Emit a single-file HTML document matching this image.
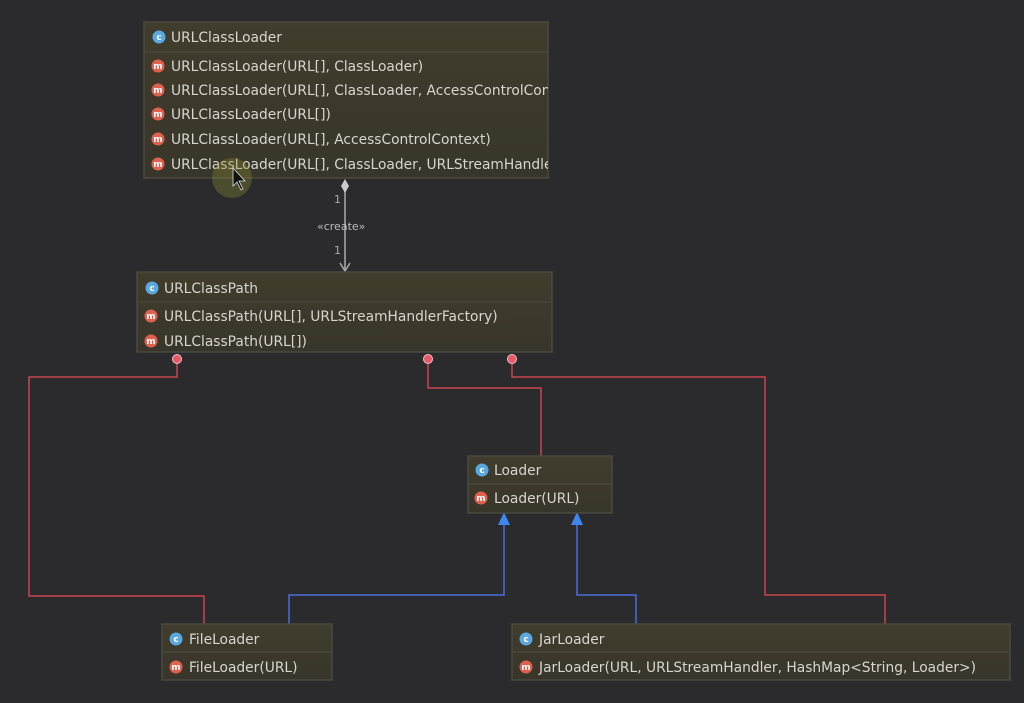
<!DOCTYPE html>
<html><head><meta charset="utf-8"><style>
html,body{margin:0;padding:0;background:#2b2b2d;}
svg{display:block}
text{font-family:"DejaVu Sans","Liberation Sans",sans-serif;font-size:13.8px;fill:#d8d6cc}
.ic{font-size:9px;font-weight:bold;fill:#fff}
</style></head><body>
<svg width="1024" height="703" viewBox="0 0 1024 703">
<defs>
<linearGradient id="g" x1="0" y1="0" x2="0" y2="1"><stop offset="0" stop-color="#403d2d"/><stop offset="1" stop-color="#38352a"/></linearGradient>
<clipPath id="c1"><rect x="144" y="22" width="404" height="156"/></clipPath>
</defs>
<rect width="1024" height="703" fill="#2b2b2d"/>
<g fill="none" stroke-width="1.5">
<polyline stroke="#c9444f" points="177,362 177,377 29,377 29,596 204,596 204,624"/>
<polyline stroke="#c9444f" points="428,362 428,388 541,388 541,456"/>
<polyline stroke="#c9444f" points="512,362 512,377 765,377 765,595 885,595 885,624"/>
<polyline stroke="#4a6ed8" points="504,524 504,595 289,595 289,624"/>
<polyline stroke="#4a6ed8" points="577,524 577,595 636,595 636,624"/>
<line stroke="#aaa" x1="345" y1="190" x2="345" y2="270"/>
<polyline stroke="#aaa" points="340,263 345,271 350,263"/>
</g>
<polygon points="345,179 349,186 345,193 341,186" fill="#ccc"/>
<polygon points="504,512 498,525 510,525" fill="#3f86f0"/>
<polygon points="577,512 571,525 583,525" fill="#3f86f0"/>
<text x="334" y="203" style="font-size:11px;fill:#aaa">1</text>
<text x="317" y="230" style="font-size:11px;fill:#bbb">«create»</text>
<text x="334" y="254" style="font-size:11px;fill:#aaa">1</text>
<g fill="#e55a66" stroke="#f2c0c4" stroke-width="1">
<circle cx="177" cy="359" r="4.5"/><circle cx="428" cy="359" r="4.5"/><circle cx="512" cy="359" r="4.5"/>
</g>
<g stroke="#4b4a42" stroke-width="1.5" fill="url(#g)">
<rect x="144" y="22" width="404" height="156"/>
<rect x="137" y="272" width="415" height="80"/>
<rect x="468" y="456" width="144" height="57"/>
<rect x="162" y="624" width="170" height="56"/>
<rect x="512" y="624" width="498" height="56"/>
</g>
<g stroke="#4e4c40" stroke-width="1">
<line x1="145" y1="52" x2="547" y2="52"/>
<line x1="138" y1="302" x2="551" y2="302"/>
<line x1="469" y1="484" x2="611" y2="484"/>
<line x1="163" y1="652" x2="331" y2="652"/>
<line x1="513" y1="652" x2="1009" y2="652"/>
</g>
<g fill="#5aa8e0">
<circle cx="159" cy="37" r="6.5"/><circle cx="152" cy="288" r="6.5"/><circle cx="482" cy="470" r="6.5"/><circle cx="176" cy="639" r="6.5"/><circle cx="526" cy="639" r="6.5"/>
</g>
<g text-anchor="middle">
<text class="ic" x="159" y="40">c</text><text class="ic" x="152" y="291">c</text><text class="ic" x="482" y="473">c</text><text class="ic" x="176" y="642">c</text><text class="ic" x="526" y="642">c</text>
</g>
<g fill="#e0604f">
<circle cx="158" cy="66" r="6.5"/><circle cx="158" cy="90" r="6.5"/><circle cx="158" cy="114" r="6.5"/><circle cx="158" cy="139" r="6.5"/><circle cx="158" cy="164" r="6.5"/>
<circle cx="151" cy="316" r="6.5"/><circle cx="151" cy="341" r="6.5"/>
<circle cx="481" cy="498" r="6.5"/><circle cx="176" cy="667" r="6.5"/><circle cx="526" cy="667" r="6.5"/>
</g>
<g text-anchor="middle">
<text class="ic" x="158" y="69">m</text><text class="ic" x="158" y="93">m</text><text class="ic" x="158" y="117">m</text><text class="ic" x="158" y="142">m</text><text class="ic" x="158" y="167">m</text>
<text class="ic" x="151" y="319">m</text><text class="ic" x="151" y="344">m</text>
<text class="ic" x="481" y="501">m</text><text class="ic" x="176" y="670">m</text><text class="ic" x="526" y="670">m</text>
</g>
<g clip-path="url(#c1)">
<text x="171" y="42">URLClassLoader</text>
<text x="171" y="71">URLClassLoader(URL[], ClassLoader)</text>
<text x="171" y="95">URLClassLoader(URL[], ClassLoader, AccessControlContext)</text>
<text x="171" y="119">URLClassLoader(URL[])</text>
<text x="171" y="144">URLClassLoader(URL[], AccessControlContext)</text>
<text x="171" y="169">URLClassLoader(URL[], ClassLoader, URLStreamHandlerFactory)</text>
</g>
<text x="164" y="293">URLClassPath</text>
<text x="164" y="321">URLClassPath(URL[], URLStreamHandlerFactory)</text>
<text x="164" y="346">URLClassPath(URL[])</text>
<text x="494" y="475">Loader</text>
<text x="494" y="503">Loader(URL)</text>
<text x="189" y="644">FileLoader</text>
<text x="189" y="672">FileLoader(URL)</text>
<text x="539" y="644">JarLoader</text>
<text x="539" y="672">JarLoader(URL, URLStreamHandler, HashMap&lt;String, Loader&gt;)</text>
<circle cx="232" cy="178" r="20" fill="#8a8a30" opacity="0.35"/>
<polygon points="233,168 233,186 237,182 241,190 243,189 239,181 245,181" fill="#111" stroke="#ddd" stroke-width="0.8"/>
</svg>
</body></html>
